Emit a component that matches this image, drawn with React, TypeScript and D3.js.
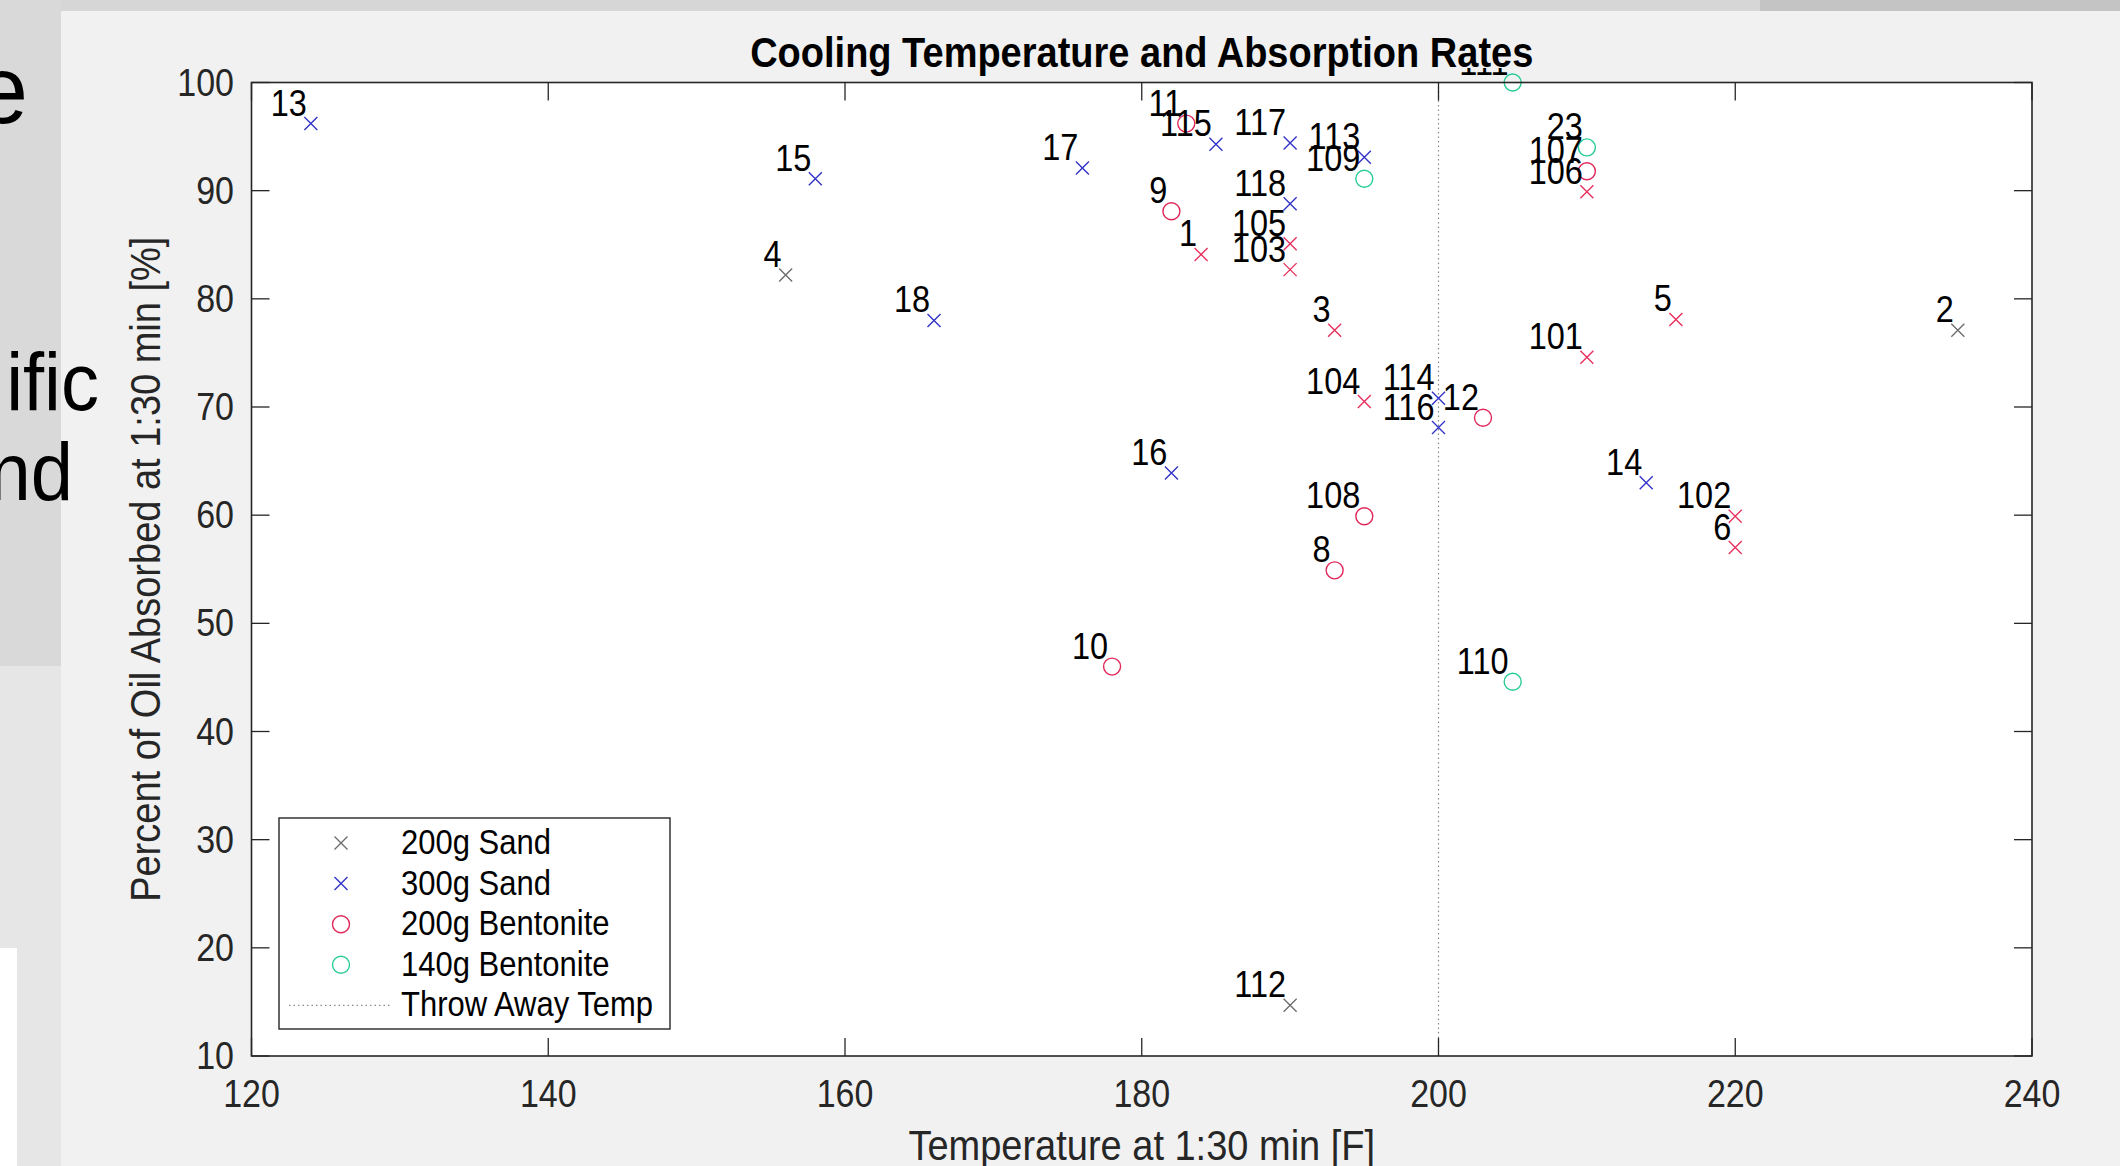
import * as d3 from 'd3';
import type { ReactNode } from 'react';

const WIDTH = 2120;
const HEIGHT = 1166;
const FONT = "'Liberation Sans', Arial, Helvetica, sans-serif";
const FIG_BG = '#f1f1f1';

// plot box in page pixels
const plot = { left: 251.5, right: 2032, top: 82.5, bottom: 1056 };

const xTicks = [120, 140, 160, 180, 200, 220, 240];
const yTicks = [10, 20, 30, 40, 50, 60, 70, 80, 90, 100];
const throwAwayTemp = 200;

// 200g Sand
const sand200Labels = ['4', '2', '112'];
const sand200Temp = [156, 235, 190];
const sand200Pct = [82.2, 77.1, 14.7];

// 300g Sand
const sand300Labels = ['13', '15', '18', '17', '16', '115', '117', '113', '118', '114', '116', '14'];
const sand300Temp = [124, 158, 166, 176, 182, 185, 190, 195, 190, 200, 200, 214];
const sand300Pct = [96.2, 91.1, 78, 92.1, 63.9, 94.3, 94.4, 93.1, 88.8, 70.8, 68.1, 63];

// 200g Bentonite
const bent200Labels = ['11', '9', '12', '108', '8', '10', '107'];
const bent200Temp = [183, 182, 203, 195, 193, 178, 210];
const bent200Pct = [96.2, 88.1, 69, 59.9, 54.9, 46, 91.8];

// 140g Bentonite
const bent140Labels = ['111', '109', '23', '110'];
const bent140Temp = [205, 195, 210, 205];
const bent140Pct = [100, 91.1, 94, 44.6];

// other runs, plotted but left out of the legend
const otherLabels = ['1', '105', '103', '3', '104', '106', '101', '5', '102', '6'];
const otherTemp = [184, 190, 190, 193, 195, 210, 210, 216, 220, 220];
const otherPct = [84.1, 85.1, 82.7, 77.1, 70.5, 89.9, 74.6, 78.1, 59.9, 57];

type Series = {
  name: string;
  labels: string[];
  temp: number[];
  pct: number[];
  shape: 'x' | 'o';
  color: string;
  legend: boolean;
};

const series: Series[] = [
  { name: '200g Sand', labels: sand200Labels, temp: sand200Temp, pct: sand200Pct, shape: 'x', color: '#6e6e6e', legend: true },
  { name: '300g Sand', labels: sand300Labels, temp: sand300Temp, pct: sand300Pct, shape: 'x', color: '#3333c8', legend: true },
  { name: '200g Bentonite', labels: bent200Labels, temp: bent200Temp, pct: bent200Pct, shape: 'o', color: '#e0285a', legend: true },
  { name: '140g Bentonite', labels: bent140Labels, temp: bent140Temp, pct: bent140Pct, shape: 'o', color: '#28cc96', legend: true },
  { name: 'other', labels: otherLabels, temp: otherTemp, pct: otherPct, shape: 'x', color: '#e8305e', legend: false },
];

const Marker = ({ x, y, shape, color }: { x: number; y: number; shape: 'x' | 'o'; color: string }) => {
  if (shape === 'o') {
    return <circle cx={x} cy={y} r={8.5} fill="none" stroke={color} strokeWidth={1.4} />;
  }
  const s = 6.5;
  return (
    <path
      d={`M${x - s},${y - s}L${x + s},${y + s}M${x - s},${y + s}L${x + s},${y - s}`}
      stroke={color}
      strokeWidth={1.4}
      fill="none"
    />
  );
};

// the figure's Helvetica renders a bit taller than Arial, so text is stretched a little vertically
const St = ({
  x, y, size, sy = 1.12, anchor = 'start', weight, fill = '#000', children,
}: {
  x: number; y: number; size: number; sy?: number; anchor?: string; weight?: string; fill?: string; children: ReactNode;
}) => (
  <text
    transform={`translate(${x},${y}) scale(1,${sy})`}
    fontSize={size}
    textAnchor={anchor}
    fontWeight={weight}
    fill={fill}
  >
    {children}
  </text>
);

export default function App() {
  const x = d3.scaleLinear().domain([120, 240]).range([plot.left, plot.right]);
  const y = d3.scaleLinear().domain([10, 100]).range([plot.bottom, plot.top]);
  const tickLen = 18;
  const axisColor = '#262626';

  const legendItems = series.filter((s) => s.legend);
  const legend = { x: 279, y: 818, w: 391, h: 211, rowH: 40.6 };
  const cx = (plot.left + plot.right) / 2;

  return (
    <svg
      width={WIDTH}
      height={HEIGHT}
      style={{ position: 'absolute', left: 0, top: 0 }}
      fontFamily={FONT}
    >
      {/* slide background and the figure window */}
      <rect x={0} y={0} width={WIDTH} height={HEIGHT} fill={FIG_BG} />
      <rect x={0} y={0} width={WIDTH} height={11} fill="#d6d6d6" />
      <rect x={1760} y={0} width={360} height={11} fill="#c4c4c4" />
      <rect x={0} y={0} width={61} height={666} fill="#d9d9d9" />
      <rect x={0} y={666} width={61} height={HEIGHT - 666} fill="#e6e6e6" />
      <rect x={0} y={948} width={17} height={HEIGHT - 948} fill="#ffffff" />

      {/* cut-off slide text on the left */}
      <St x={28} y={123} size={92} sy={1.05} anchor="end">e</St>
      <St x={99} y={410} size={76} sy={1.08} anchor="end">ific</St>
      <St x={73} y={500} size={76} sy={1.08} anchor="end">nd</St>

      {/* axes background */}
      <rect
        x={plot.left}
        y={plot.top}
        width={plot.right - plot.left}
        height={plot.bottom - plot.top}
        fill="#ffffff"
      />

      {/* throw away temperature line */}
      <line
        x1={x(throwAwayTemp)}
        x2={x(throwAwayTemp)}
        y1={plot.top}
        y2={plot.bottom}
        stroke="#8a8a8a"
        strokeWidth={1.2}
        strokeDasharray="1.5 3"
      />

      {/* ticks */}
      {xTicks.map((t) => (
        <g key={`xt${t}`}>
          <line x1={x(t)} x2={x(t)} y1={plot.bottom} y2={plot.bottom - tickLen} stroke={axisColor} strokeWidth={1.3} />
          <line x1={x(t)} x2={x(t)} y1={plot.top} y2={plot.top + tickLen} stroke={axisColor} strokeWidth={1.3} />
          <St x={x(t)} y={1107} size={34} anchor="middle" fill={axisColor}>{t}</St>
        </g>
      ))}
      {yTicks.map((t) => (
        <g key={`yt${t}`}>
          <line x1={plot.left} x2={plot.left + tickLen} y1={y(t)} y2={y(t)} stroke={axisColor} strokeWidth={1.3} />
          <line x1={plot.right} x2={plot.right - tickLen} y1={y(t)} y2={y(t)} stroke={axisColor} strokeWidth={1.3} />
          <St x={234} y={y(t) + 13} size={34} anchor="end" fill={axisColor}>{t}</St>
        </g>
      ))}

      {/* points */}
      {series.map((s) => s.temp.map((t, i) => (
        <Marker key={`${s.name}-m${i}`} x={x(t)} y={y(s.pct[i])} shape={s.shape} color={s.color} />
      )))}
      {series.map((s) => s.temp.map((t, i) => (
        <St key={`${s.name}-l${i}`} x={x(t) - 4} y={y(s.pct[i]) - 8} size={32.5} sy={1.12} anchor="end">
          {s.labels[i]}
        </St>
      )))}

      <rect
        x={plot.left}
        y={plot.top}
        width={plot.right - plot.left}
        height={plot.bottom - plot.top}
        fill="none"
        stroke={axisColor}
        strokeWidth={1.6}
      />

      {/* legend */}
      <rect x={legend.x} y={legend.y} width={legend.w} height={legend.h} fill="#ffffff" stroke={axisColor} strokeWidth={1.4} />
      {legendItems.map((s, i) => {
        const ly = legend.y + 25 + i * legend.rowH;
        return (
          <g key={`lg${s.name}`}>
            <Marker x={341} y={ly} shape={s.shape} color={s.color} />
            <St x={401} y={ly + 11} size={31}>{s.name}</St>
          </g>
        );
      })}
      {(() => {
        const ly = legend.y + 25 + legendItems.length * legend.rowH;
        return (
          <g>
            <line x1={289} x2={392} y1={ly} y2={ly} stroke="#8a8a8a" strokeWidth={1.2} strokeDasharray="1.5 3" />
            <St x={401} y={ly + 11} size={31}>Throw Away Temp</St>
          </g>
        );
      })()}

      {/* title sits on its own band, hiding the top of the label under it */}
      <rect x={745} y={28} width={795} height={40} fill={FIG_BG} />
      <St x={cx} y={67} size={38} sy={1.1} anchor="middle" weight="bold">
        Cooling Temperature and Absorption Rates
      </St>
      <St x={cx} y={1160} size={38} sy={1.1} anchor="middle" fill={axisColor}>
        Temperature at 1:30 min [F]
      </St>
      <text
        transform={`translate(160, ${(plot.top + plot.bottom) / 2}) rotate(-90) scale(1,1.1)`}
        fontSize={38}
        textAnchor="middle"
        fill={axisColor}
      >
        Percent of Oil Absorbed at 1:30 min [%]
      </text>
    </svg>
  );
}
